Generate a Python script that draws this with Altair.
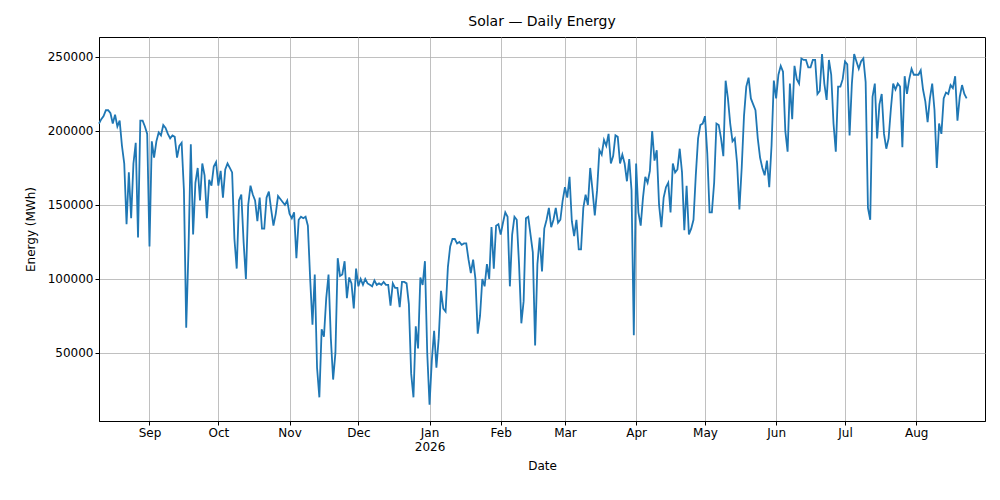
import altair as alt
import pandas as pd

LINE_COLOUR = "#1f77b4"

# daily energy, thousands of MWh, month by month
aug_2025 = [205, 208, 210, 214, 214, 212, 205, 211, 203, 207, 190, 178, 137, 172, 141, 178, 192, 128, 207, 207, 203, 198]
sep_2025 = [122, 193, 182, 193, 199, 197, 204, 202, 198, 195, 197, 196, 182, 190, 192, 160, 67, 120, 191, 130,
            165, 175, 153, 178, 170, 141, 167, 163, 176, 179]
oct_2025 = [163, 173, 155, 174, 178, 175, 172, 127, 107, 153, 157, 125, 100, 150, 163, 157, 153, 139, 155, 134,
            134, 155, 159, 147, 136, 144, 156, 154, 152, 150, 153]
nov_2025 = [144, 141, 145, 114, 140, 142, 141, 142, 136, 100, 69, 103, 40, 20, 66, 61, 87, 103, 60, 32,
            50, 114, 102, 103, 112, 87, 101, 97, 80, 107]
dec_2025 = [95, 100, 96, 100, 97, 96, 95, 99, 96, 97, 96, 98, 96, 96, 82, 97, 94, 94, 81, 98,
            98, 97, 83, 36, 20, 68, 53, 101, 96, 112, 50]
jan_2026 = [15, 45, 65, 40, 60, 92, 80, 78, 108, 122, 127, 127, 124, 125, 123, 124, 124, 113, 104, 113,
            100, 63, 75, 100, 95, 110, 100, 135, 107, 136, 137]
feb_2026 = [130, 138, 145, 142, 95, 130, 142, 140, 110, 70, 85, 141, 142, 130, 118, 55, 110, 128, 105, 134,
            140, 148, 135, 140, 148, 138, 140, 153]
mar_2026 = [162, 155, 169, 139, 129, 140, 120, 120, 148, 157, 150, 175, 160, 143, 160, 187, 184, 194, 190, 198,
            178, 183, 197, 196, 178, 184, 178, 166, 181, 160, 62]
apr_2026 = [178, 145, 136, 155, 169, 165, 173, 200, 180, 187, 150, 135, 155, 162, 165, 145, 178, 172, 174, 188,
            172, 133, 163, 130, 134, 140, 170, 195, 204, 205]
may_2026 = [210, 185, 145, 145, 165, 205, 204, 195, 183, 234, 222, 205, 193, 195, 178, 147, 175, 210, 230, 236,
            222, 218, 214, 195, 182, 175, 170, 180, 162, 190, 234]
jun_2026 = [222, 238, 244, 240, 200, 186, 232, 208, 244, 235, 232, 249, 248, 248, 243, 243, 248, 248, 225, 227,
            252, 232, 221, 248, 238, 205, 186, 230, 230, 235]
jul_2026 = [247, 245, 197, 232, 252, 247, 242, 247, 249, 233, 148, 140, 223, 232, 195, 218, 225, 198, 188, 195,
            215, 232, 228, 232, 230, 189, 237, 225, 235, 242, 238]
aug_2026 = [238, 238, 241, 228, 220, 206, 222, 232, 214, 175, 205, 198, 222, 226, 225, 231, 229, 237, 207, 223,
            231, 225, 222]

values = (aug_2025 + sep_2025 + oct_2025 + nov_2025 + dec_2025 + jan_2026 + feb_2026
          + mar_2026 + apr_2026 + may_2026 + jun_2026 + jul_2026 + aug_2026)
dates = pd.date_range("2025-08-10", periods=len(values), freq="D")
df = pd.DataFrame({"Date": dates, "Energy": [v * 1000 for v in values]})

label_expr = ("month(datum.value) == 0 ? [timeFormat(datum.value, '%b'), timeFormat(datum.value, '%Y')]"
              " : timeFormat(datum.value, '%b')")

chart = alt.Chart(df).mark_line(color=LINE_COLOUR, strokeWidth=1.8).encode(
    x=alt.X("Date:T", title="Date",
            scale=alt.Scale(domain=["2025-08-10", "2026-08-31"], nice=False),
            axis=alt.Axis(tickCount={"interval": "month", "step": 1}, labelExpr=label_expr,
                          labelAngle=0, labelAlign="center", titlePadding=8)),
    y=alt.Y("Energy:Q", title="Energy (MWh)",
            scale=alt.Scale(domain=[4000, 263500], nice=False, zero=False),
            axis=alt.Axis(values=[50000, 100000, 150000, 200000, 250000], format="d", titlePadding=10)),
).properties(
    width=886, height=384,
    title=alt.TitleParams("Solar — Daily Energy", fontSize=14, fontWeight="normal", offset=8),
    autosize=alt.AutoSizeParams(type="none"),
    padding={"left": 91, "top": 29, "right": 7, "bottom": 71},
).configure(
    font="DejaVu Sans",
).configure_axis(
    grid=True, gridColor="#b0b0b0", gridWidth=0.8, domainColor="black", tickColor="black",
    labelColor="black", titleColor="black", labelFontSize=12, titleFontSize=12,
    titleFontWeight="normal", tickSize=4,
).configure_view(stroke="black", strokeWidth=1)

chart.save("out.html", embed_options={"renderer": "svg", "actions": False})
